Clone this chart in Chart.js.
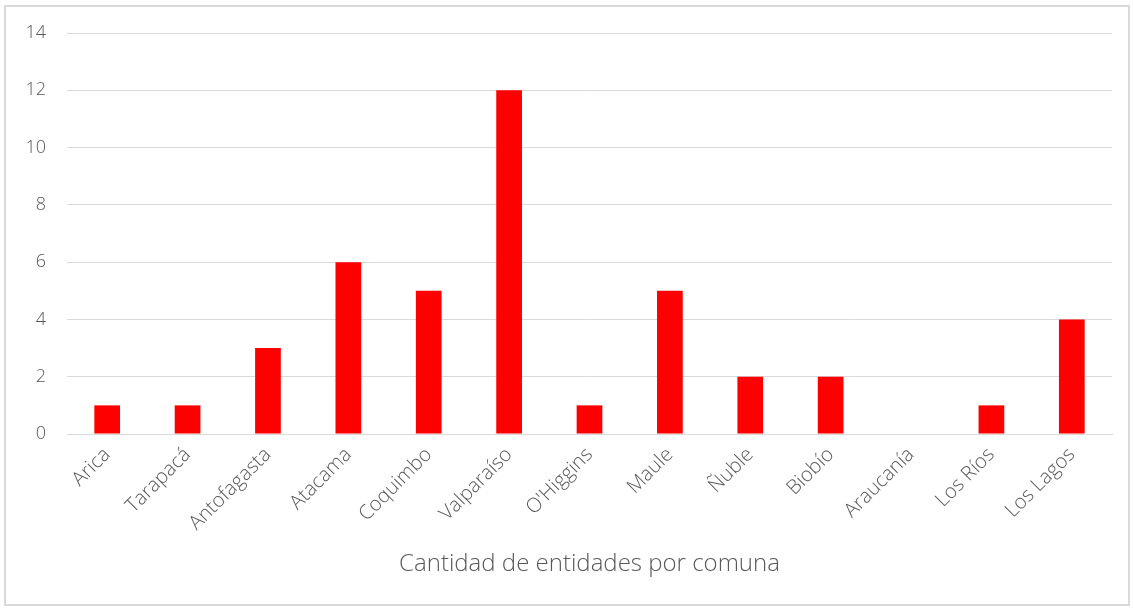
<!DOCTYPE html>
<html>
<head>
<meta charset="utf-8">
<script src="https://cdn.jsdelivr.net/npm/chart.js@4"></script>
<style>
  html, body { margin: 0; padding: 0; background: #fff; }
  #wrap { position: relative; width: 1133px; height: 609px; }
</style>
</head>
<body>
<div id="wrap"><canvas id="entidadesChart" width="1133" height="609"></canvas></div>
<script>
// Regiones y número de entidades
var regiones = ['Arica', 'Tarapacá', 'Antofagasta', 'Atacama', 'Coquimbo', 'Valparaíso',
                'O\'Higgins', 'Maule', 'Ñuble', 'Biobío', 'Araucanía', 'Los Ríos', 'Los Lagos'];
var entidades = [1, 1, 3, 6, 5, 12, 1, 5, 2, 2, 0, 1, 4];
var ejeY = [0, 2, 4, 6, 8, 10, 12, 14];

var textColor = '#595959';
var fontFamily = '"Open Sans", "DejaVu Sans", sans-serif';

// frame around the whole chart
var frame = {
    id: 'frame',
    beforeDraw: function(chart) {
        var c = chart.ctx;
        c.save();
        c.fillStyle = '#fff';
        c.fillRect(0, 0, chart.width, chart.height);
        c.strokeStyle = '#d9d9d9';
        c.lineWidth = 2;
        c.strokeRect(5, 6, 1124, 599);
        c.restore();
    }
};

new Chart(document.getElementById('entidadesChart'), {
    type: 'bar',
    data: {
        labels: regiones,
        datasets: [{
            label: 'Cantidad de entidades por comuna',
            data: entidades,
            backgroundColor: '#ff0000',
            borderWidth: 0,
            barPercentage: 0.32,
            categoryPercentage: 1
        }]
    },
    options: {
        responsive: false,
        animation: false,
        layout: { padding: { top: 33, right: 21, bottom: 0, left: 0 } },
        plugins: {
            legend: { display: false },
            tooltip: { enabled: false }
        },
        scales: {
            x: {
                grid: { display: false, drawTicks: false },
                border: { color: '#d9d9d9', width: 1 },
                ticks: {
                    color: textColor,
                    font: { family: fontFamily, size: 20, weight: 300 },
                    minRotation: 45,
                    maxRotation: 45,
                    padding: 9
                },
                title: {
                    display: true,
                    text: 'Cantidad de entidades por comuna',
                    color: textColor,
                    font: { family: fontFamily, size: 24, weight: 300 },
                    padding: { top: 0, bottom: 30 }
                },
                afterFit: function(scale) { scale.height = 175; }
            },
            y: {
                min: 0,
                max: 14,
                afterBuildTicks: function(scale) {
                    scale.ticks = ejeY.map(function(v) { return { value: v }; });
                },
                grid: { color: '#d9d9d9', lineWidth: 1, drawTicks: false },
                border: { display: false },
                ticks: {
                    color: textColor,
                    font: { family: fontFamily, size: 18, weight: 300 },
                    padding: 21
                },
                afterFit: function(scale) { scale.width = 67; }
            }
        }
    },
    plugins: [frame]
});
</script>
</body>
</html>
